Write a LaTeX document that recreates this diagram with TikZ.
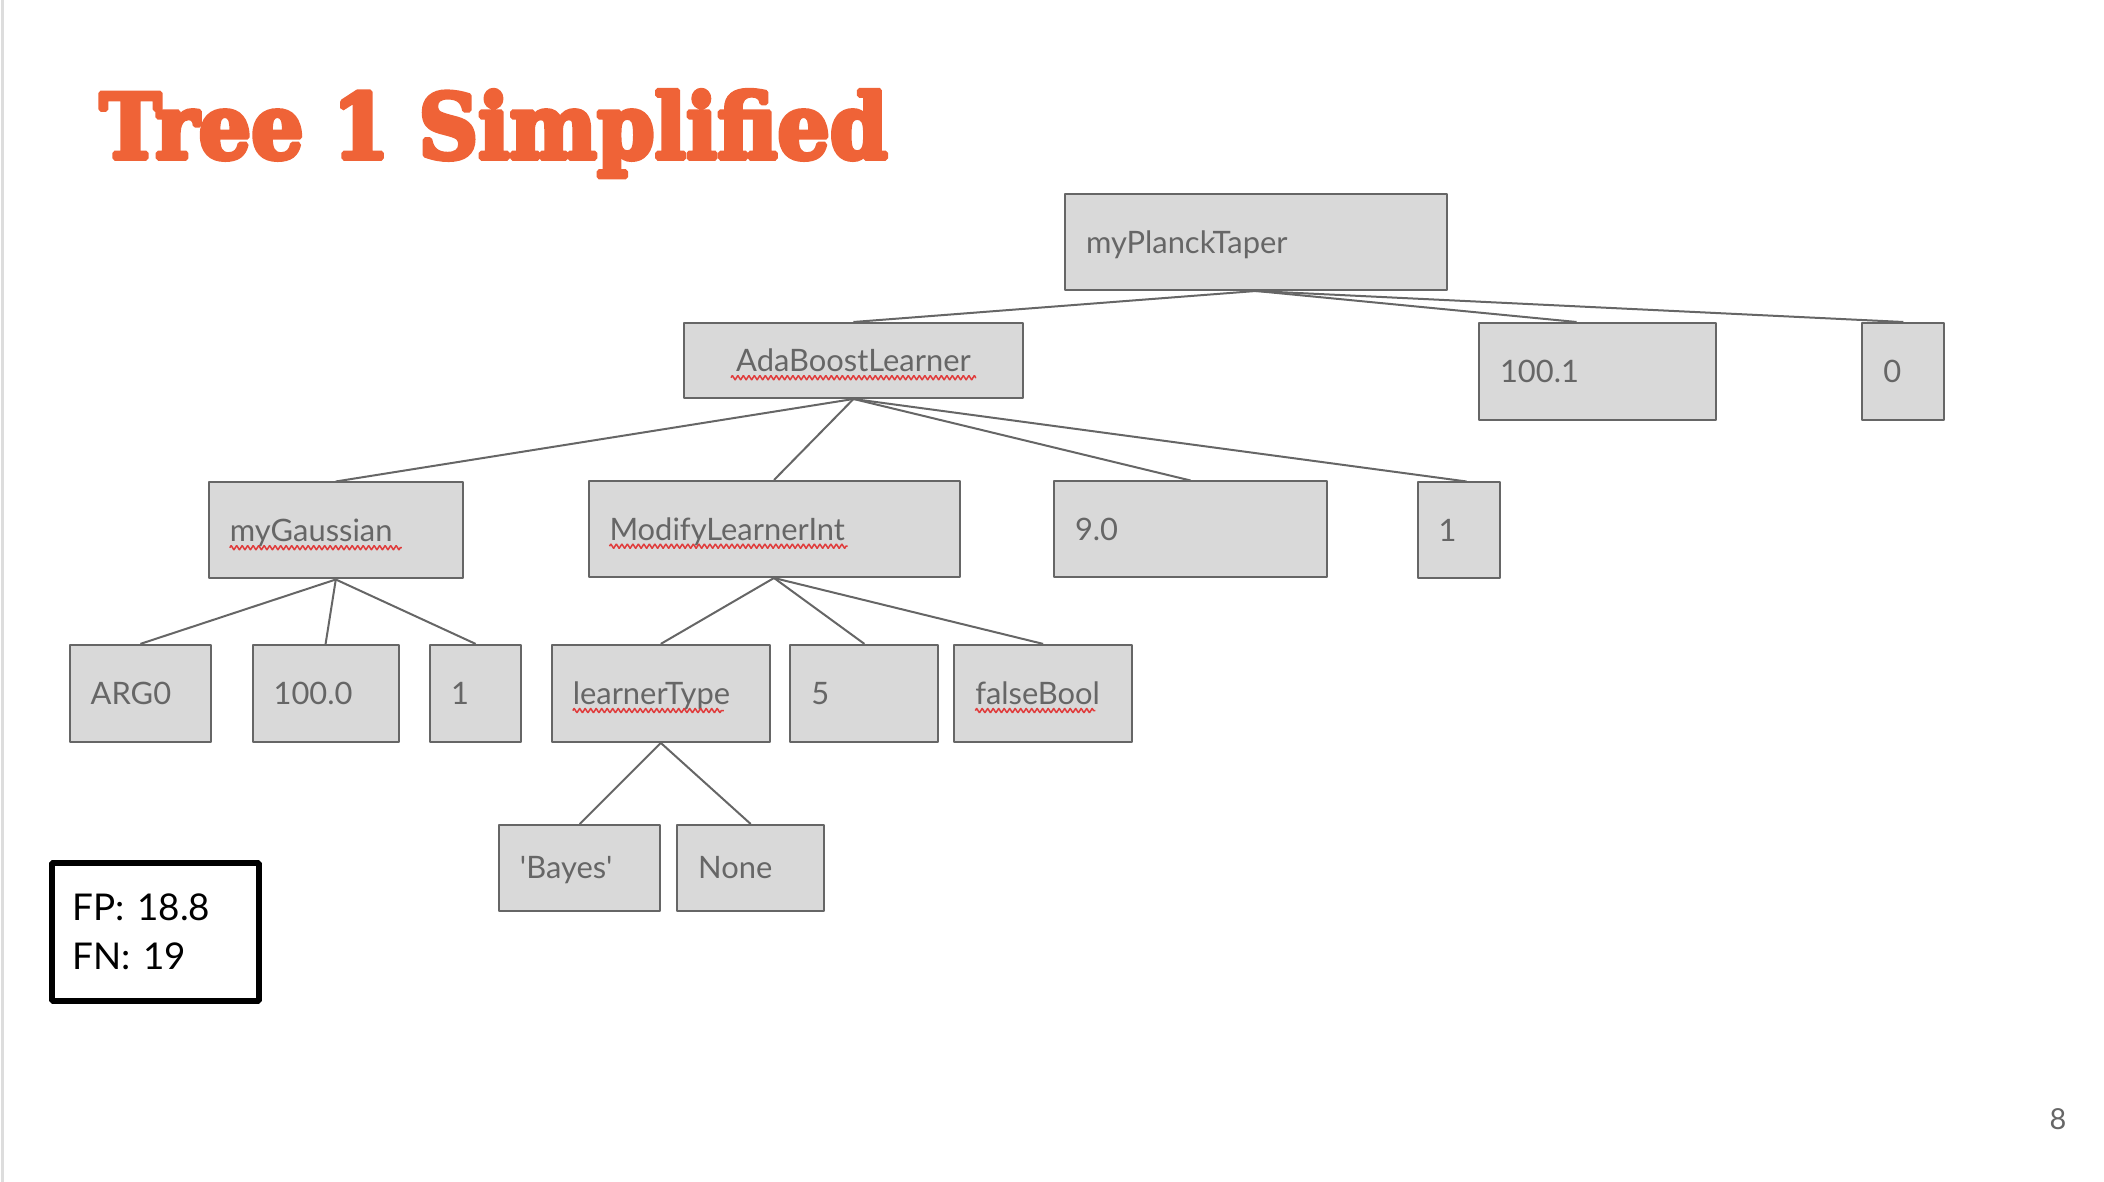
\documentclass[tikz,border=0pt]{standalone}
\usepackage{fontspec}
\setmainfont{Lato}[Ligatures=TeXOff]
\newfontfamily\titlefont{DejaVu Serif Bold}
\usetikzlibrary{decorations.pathmorphing}
\definecolor{boxfill}{HTML}{D9D9D9}
\definecolor{boxline}{HTML}{666666}
\definecolor{boxtext}{HTML}{666666}
\definecolor{titleorange}{HTML}{EF6337}
\definecolor{spellred}{HTML}{E03C3C}
\definecolor{slideedge}{HTML}{DDDDDD}
\newcommand\boxfont{\fontsize{31}{36}\selectfont}
\newcommand\scorefont{\fontsize{37}{49}\selectfont}
\newcommand\heavytext[1]{\special{pdf:literal direct 2 Tr 0.55 w}#1\special{pdf:literal direct 0 Tr}}
\begin{document}
\begin{tikzpicture}[line join=bevel,
  treebox/.style={draw=boxline,fill=boxfill,line width=2bp,inner xsep=21bp,inner ysep=0bp,
    text=boxtext,font=\boxfont,text height=22.4bp,text depth=0bp,align=left,minimum height=96bp},
  treeedge/.style={draw=boxline,line width=2bp},
  spellmark/.style={draw=spellred,line width=1.5bp,decorate,decoration={zigzag,segment length=5.5bp,amplitude=2.2bp}},
  scorebox/.style={draw=black,fill=white,line width=6bp,inner xsep=20.7bp,align=left,
    font=\scorefont,minimum width=206.7bp,minimum height=138.8bp,text width=165bp},
]
%%
\useasboundingbox (0bp,0bp) rectangle (2104bp,1182bp);
\draw [slideedge,line width=3bp] (2bp,0bp) -- (2bp,1182bp);
\node (title) at (99.5bp,1023.7bp) [anchor=base west,inner sep=0pt,text=titleorange] {\resizebox{788bp}{68bp}{\titlefont\heavytext{Tree 1 Simplified}}};
  \node (node_0) at (1256bp,940bp) [treebox,text width=340bp] {myPlanckTaper};
  \node (node_1) at (853.5bp,821.5bp) [treebox,text width=297bp,minimum height=75bp,align=center] {AdaBoostLearner};
  \node (node_2) at (1597.5bp,810.5bp) [treebox,text width=195bp,minimum height=97bp] {100.1};
  \node (node_3) at (1903.4bp,810.5bp) [treebox,text width=40bp,minimum height=97bp] {0};
  \node (node_4) at (335.8bp,651.5bp) [treebox,text width=212bp] {myGaussian};
  \node (node_5) at (774bp,653bp) [treebox,text width=329bp] {ModifyLearnerInt};
  \node (node_6) at (1190.5bp,652.5bp) [treebox,text width=231bp] {9.0};
  \node (node_7) at (1458.5bp,651.5bp) [treebox,text width=40bp] {1};
  \node (node_8) at (140.4bp,488.6bp) [treebox,text width=99.6bp,minimum height=97bp] {ARG0};
  \node (node_9) at (325.6bp,488.6bp) [treebox,text width=104bp,minimum height=97bp] {100.0};
  \node (node_10) at (475.6bp,488.6bp) [treebox,text width=49bp,minimum height=97bp] {1};
  \node (node_11) at (660.8bp,488.6bp) [treebox,text width=176bp,minimum height=97bp] {learnerType};
  \node (node_12) at (864.4bp,488.6bp) [treebox,text width=106bp,minimum height=97bp] {5};
  \node (node_13) at (1043.1bp,488.6bp) [treebox,text width=135.6bp,minimum height=97bp] {falseBool};
  \node (node_14) at (579.7bp,314.2bp) [treebox,text width=119.5bp,minimum height=85.6bp] {'Bayes'};
  \node (node_15) at (750.7bp,314.2bp) [treebox,text width=105bp,minimum height=85.6bp] {None};
  \node (score) at (155.4bp,249.9bp) [scorebox] {FP: 18.8\\FN: 19};
  \node (pagenum) at (2058bp,62.5bp) [text=boxtext,font=\fontsize{29}{34}\selectfont] {8};
  \draw [treeedge] (node_0.south) -- (node_1.north);
  \draw [treeedge] (node_0.south) -- ([xshift=-21bp]node_2.north);
  \draw [treeedge] (node_0.south) -- (node_3.north);
  \draw [treeedge] (node_1.south) -- (node_4.north);
  \draw [treeedge] (node_1.south) -- (node_5.north);
  \draw [treeedge] (node_1.south) -- (node_6.north);
  \draw [treeedge] (node_1.south) -- ([xshift=8bp]node_7.north);
  \draw [treeedge] (node_4.south) -- (node_8.north);
  \draw [treeedge] (node_4.south) -- (node_9.north);
  \draw [treeedge] (node_4.south) -- (node_10.north);
  \draw [treeedge] (node_5.south) -- (node_11.north);
  \draw [treeedge] (node_5.south) -- (node_12.north);
  \draw [treeedge] (node_5.south) -- (node_13.north);
  \draw [treeedge] (node_11.south) -- (node_14.north);
  \draw [treeedge] (node_11.south) -- (node_15.north);
% spell-check marks
\draw [spellmark] ([xshift=-122.5bp,yshift=-6bp]node_1.base) -- ++(245bp,0bp);
\draw [spellmark] ([xshift=22bp,yshift=-6bp]node_4.base west) -- ++(172bp,0bp);
\draw [spellmark] ([xshift=22bp,yshift=-6bp]node_5.base west) -- ++(238bp,0bp);
\draw [spellmark] ([xshift=22bp,yshift=-6bp]node_11.base west) -- ++(151bp,0bp);
\draw [spellmark] ([xshift=22bp,yshift=-6bp]node_13.base west) -- ++(120bp,0bp);
%
\end{tikzpicture}
\end{document}
